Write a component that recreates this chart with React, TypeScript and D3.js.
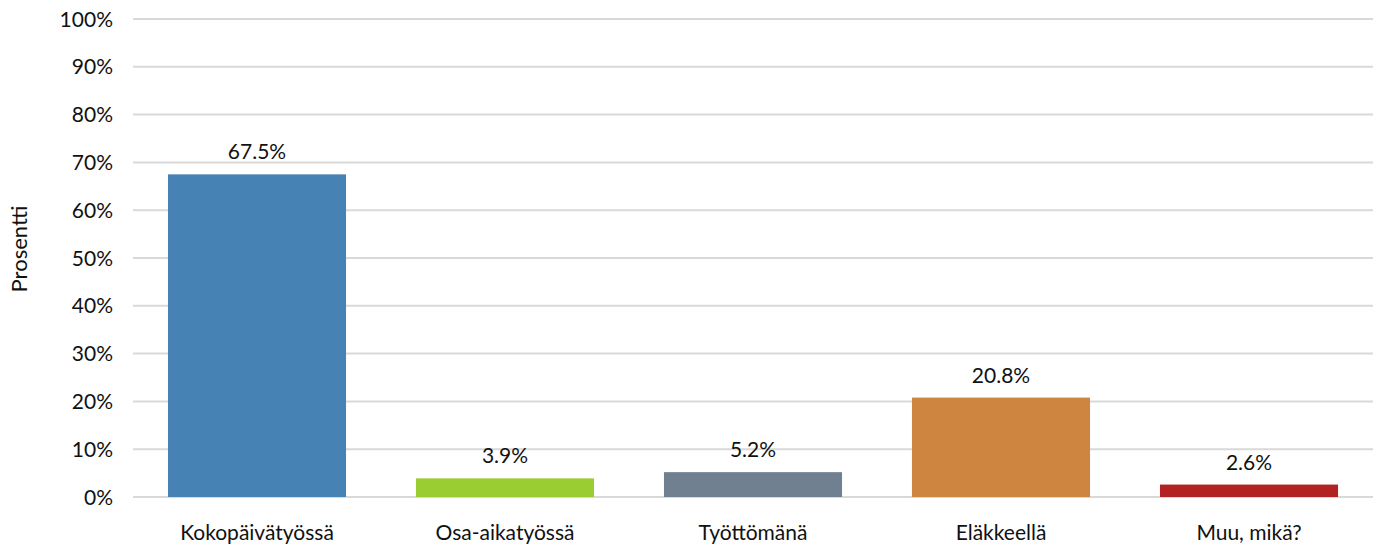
import * as d3 from "d3";

const categories = ["Kokopäivätyössä", "Osa-aikatyössä", "Työttömänä", "Eläkkeellä", "Muu, mikä?"];
const values = [67.5, 3.9, 5.2, 20.8, 2.6];
const colors = ["#4682B4", "#9ACD32", "#708090", "#CD853F", "#B22222"];
const yTicks = [0, 10, 20, 30, 40, 50, 60, 70, 80, 90, 100];

const W = 1383;
const H = 547;
const margin = { top: 19, right: 10, bottom: 50, left: 133 };
const FONT = "Lato, 'Open Sans', sans-serif";

export default function App() {
  const x = d3
    .scaleBand<string>()
    .domain(categories)
    .range([margin.left, W - margin.right])
    .paddingInner(0.282)
    .paddingOuter(0.141);
  const y = d3.scaleLinear().domain([0, 100]).range([H - margin.bottom, margin.top]);

  return (
    <svg
      width={W}
      height={H}
      style={{ position: "absolute", left: 0, top: 0, background: "#fff" }}
      fontFamily={FONT}
    >
      {yTicks.map((t) => (
        <g key={t}>
          <line
            x1={margin.left}
            x2={W - margin.right}
            y1={y(t)}
            y2={y(t)}
            stroke="#d9d9d9"
            strokeWidth={2}
          />
          <text x={113} y={y(t)} dy="0.36em" textAnchor="end" fontSize={21} fill="#111">
            {t}%
          </text>
        </g>
      ))}
      {categories.map((c, i) => (
        <g key={c}>
          <rect
            x={x(c)}
            y={y(values[i])}
            width={x.bandwidth()}
            height={y(0) - y(values[i])}
            fill={colors[i]}
          />
          <text
            x={(x(c) ?? 0) + x.bandwidth() / 2}
            y={y(values[i]) - 15}
            textAnchor="middle"
            fontSize={21}
            fill="#111"
          >
            {values[i].toFixed(1)}%
          </text>
          <text
            x={(x(c) ?? 0) + x.bandwidth() / 2}
            y={540}
            textAnchor="middle"
            fontSize={21}
            fill="#111"
          >
            {c}
          </text>
        </g>
      ))}
      <text
        transform={`translate(27, 249) rotate(-90)`}
        textAnchor="middle"
        fontSize={22}
        fill="#111"
      >
        Prosentti
      </text>
    </svg>
  );
}
